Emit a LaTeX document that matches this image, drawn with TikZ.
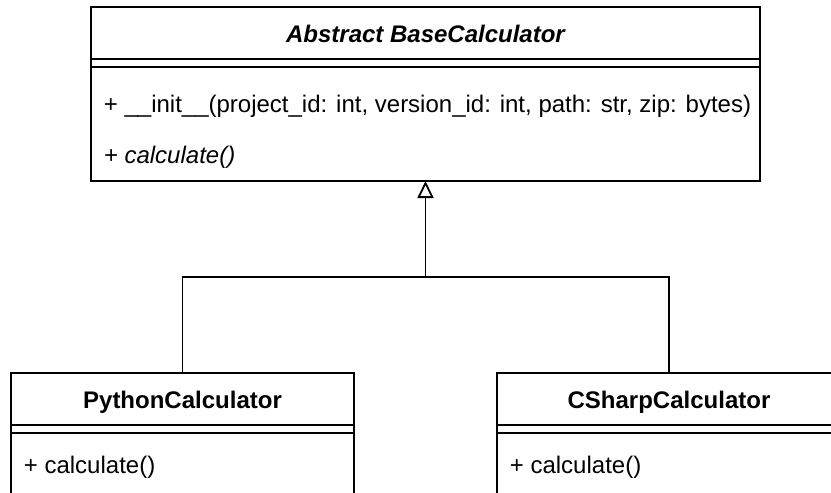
\documentclass[tikz,border=0pt]{standalone}
\usepackage{fontspec}
\setmainfont{Liberation Sans}
\usetikzlibrary{arrows.meta,calc}
\begin{document}
\begin{tikzpicture}[x=1pt,y=-1pt,line width=1.8pt,
  classbox/.style={draw=black, rectangle, inner sep=0pt, outer sep=0pt},
  member/.style={anchor=base west, inner sep=0pt, font=\fontsize{24}{28}\selectfont},
  classtitle/.style={anchor=base, inner sep=0pt, font=\fontsize{24}{28}\selectfont\bfseries},
  inherit/.style={-{Triangle[open,length=17pt,width=16pt]}}]
\useasboundingbox (0,0) rectangle (831,493);
\clip (0,0) rectangle (831,493);

% class boxes
\node[classbox, minimum width=669pt, minimum height=174pt] (base) at (425.5,94) {};
\node[classbox, minimum width=343pt, minimum height=170pt] (py) at (182.5,458) {};
\node[classbox, minimum width=344pt, minimum height=170pt] (cs) at (669,458) {};

% compartment separators (double line under each name)
\draw (base.west |- 0,59) -- (base.east |- 0,59);
\draw (base.west |- 0,67) -- (base.east |- 0,67);
\draw (py.west |- 0,425) -- (py.east |- 0,425);
\draw (py.west |- 0,433) -- (py.east |- 0,433);
\draw (cs.west |- 0,425) -- (cs.east |- 0,425);
\draw (cs.west |- 0,433) -- (cs.east |- 0,433);

% abstract base class
\node[classtitle, font=\fontsize{24}{28}\selectfont\bfseries\itshape] (basename) at (425.5,42) {Abstract BaseCalculator};
\node[member] (init) at (103,112) {+ \_\_init\_\_(project\_id: int, version\_id: int, path: str, zip: bytes)};
\node[member, font=\fontsize{24}{28}\selectfont\itshape] (basecalc) at (103,163) {+ calculate()};

% subclasses
\node[classtitle] (pyname) at (182.5,408) {PythonCalculator};
\node[member] (pycalc) at (23,473) {+ calculate()};
\node[classtitle] (csname) at (669,408) {CSharpCalculator};
\node[member] (cscalc) at (509,473) {+ calculate()};

% generalization connectors
\coordinate (j) at (base.south |- 0,277);
\draw (py.north) -- (py.north |- j) -- (cs.north |- j) -- (cs.north);
\draw[inherit] (j) -- (base.south);
\end{tikzpicture}
\end{document}
